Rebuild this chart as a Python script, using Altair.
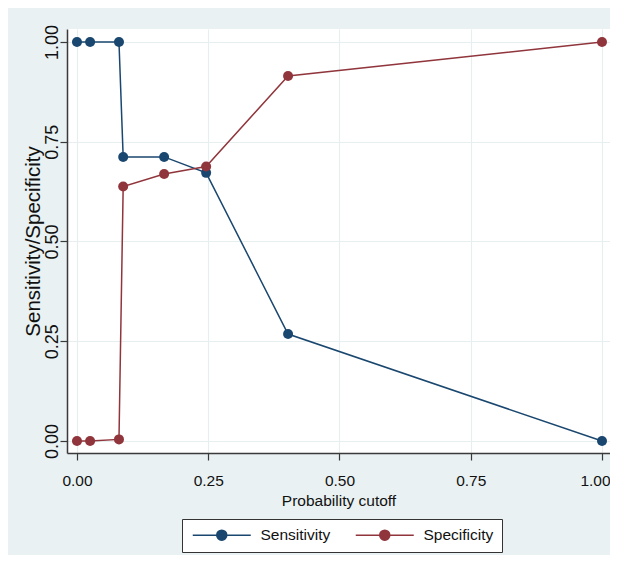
import altair as alt
import pandas as pd

cutoff = [0.0, 0.025, 0.08, 0.088, 0.166, 0.246, 0.402, 1.0]
sensitivity = [1.0, 1.0, 1.0, 0.712, 0.712, 0.672, 0.268, 0.0]
specificity = [0.0, 0.0, 0.004, 0.638, 0.669, 0.688, 0.915, 1.0]
series = ["Sensitivity", "Specificity"]
colors = ["#1A476F", "#90353B"]
ticks = [0.0, 0.25, 0.5, 0.75, 1.0]

rows = []
for name, vals in zip(series, [sensitivity, specificity]):
    for c, v in zip(cutoff, vals):
        rows.append({"cutoff": c, "value": v, "series": name})
df = pd.DataFrame(rows)

HF = "Liberation Sans, Arial"
HS = 15.5
REG = "Liberation Sans, Arial"
BG = "#E9F1F2"
AX = "#3a3a3a"

x = alt.X("cutoff:Q",
          scale=alt.Scale(domain=[-0.019, 1.0152], nice=False, zero=False),
          axis=alt.Axis(values=ticks, format=".2f", title="Probability cutoff",
                        labelFont=HF, labelFontSize=HS, labelColor="#111",
                        labelBaseline="alphabetic", labelPadding=25,
                        labelOffset=alt.ExprRef("datum.value === 1 ? -7 : 0"),
                        titleFont=HF, titleFontSize=HS, titleFontWeight="normal",
                        titleColor="#111", titleBaseline="alphabetic", titleY=52,
                        tickSize=7, tickColor=AX, tickWidth=1.2,
                        domainColor=AX, domainWidth=1.5,
                        gridColor="#E6EEF0", gridWidth=1.2))
y = alt.Y("value:Q",
          scale=alt.Scale(domain=[-0.0301, 1.0326], nice=False, zero=False),
          axis=alt.Axis(values=ticks, format=".2f", title="Sensitivity/Specificity",
                        labelFont=REG, labelFontSize=18, labelColor="#111",
                        labelAngle=270, labelAlign="center", labelBaseline="alphabetic",
                        labelPadding=3,
                        titleFont=REG, titleFontSize=20.5, titleFontWeight="normal",
                        titleColor="#111", titleAngle=270, titleBaseline="middle",
                        titleX=-34, titleY=212,
                        tickSize=7, tickColor=AX, tickWidth=1.2,
                        domainColor=AX, domainWidth=1.5,
                        gridColor="#E6EEF0", gridWidth=1.2))

sym_path = "M-1,0H10.6M3.8,0A1,1,0,1,0,5.8,0A1,1,0,1,0,3.8,0Z"
color = alt.Color("series:N",
                  scale=alt.Scale(domain=series, range=colors),
                  legend=alt.Legend(title=None, orient="none", legendX=115, legendY=490,
                                    direction="horizontal", fillColor="white",
                                    strokeColor="#333", padding=8,
                                    labelFont=HF, labelFontSize=HS, labelColor="#111",
                                    symbolType=sym_path,
                                    symbolSize=100, symbolStrokeWidth=1.5,
                                    labelOffset=55, columnPadding=21))

lines = alt.Chart(df).mark_line(strokeWidth=1.5).encode(x=x, y=y, color=color, detail="series:N")
points = alt.Chart(df).mark_circle(size=100, opacity=1).encode(x=x, y=y, color=color)

chart = alt.layer(lines, points).properties(
    width=543, height=424,
    autosize=alt.AutoSizeParams(type="none"),
    padding={"left": 59, "top": 21, "right": 0, "bottom": 102},
    background=BG,
).configure_view(fill="white", stroke=None)

chart.save("out.html", embed_options={"renderer": "svg", "actions": False})
